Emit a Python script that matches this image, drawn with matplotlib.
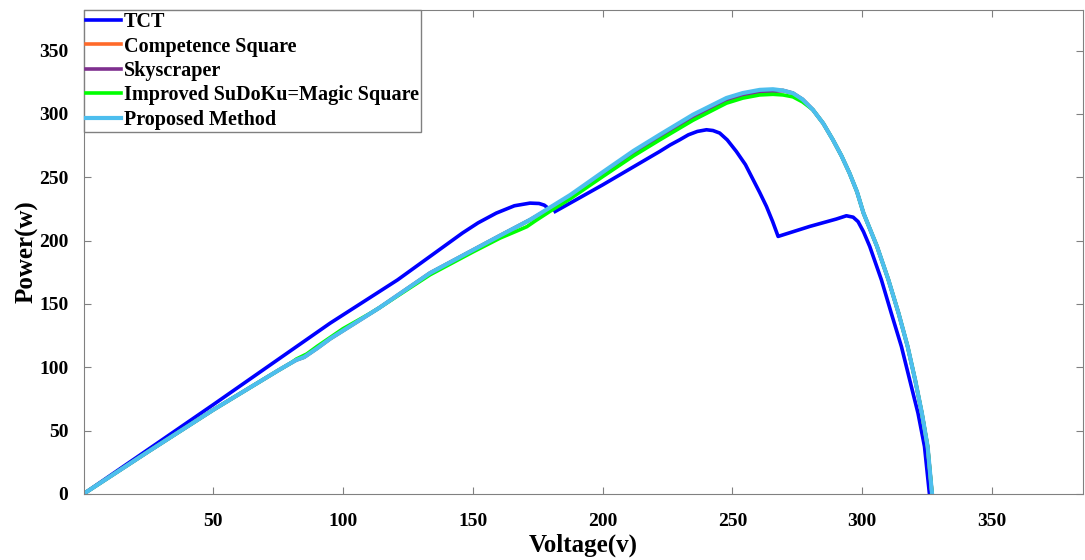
import numpy as np
import matplotlib
matplotlib.use("Agg")
import matplotlib.pyplot as plt

# Datos (Voltaje en V, Potencia en W)
v_tct = [0, 50, 95, 121, 146, 152, 159, 166, 172, 175.5, 177.5, 179, np.nan,
         181.7, 190, 200, 210, 222, 226, 229.7, 233, 236.5, 240, 242.5, 245.1, 248,
         251.5, 255, 258, 260.5, 263.1, 265.5, 267.6, 279.8, 290, 293.9, 296.5, 298.4,
         300.5, 302.9, 307.4, 311.2, 315.1, 318.3, 321.5, 324, 325.9]
p_tct = [0, 70.5, 134.8, 169, 206, 214, 221.7, 227.5, 229.6, 229.3, 228, 225.6, np.nan,
         223, 232.5, 244, 256, 270.4, 275.5, 279.6, 283.5, 286.2, 287.5, 286.9, 284.9, 279.5,
         270.4, 260, 248, 238, 227, 215, 203.3, 211.2, 217, 219.6, 218.5, 215,
         207, 195.4, 169, 142.7, 116.4, 90, 63.7, 37.4, 0]

v_prop = [0, 25, 50, 75, 80, 82, 85, 90, 95, 114, 133.5, 150, 160.5, 172, 187.5, 200,
          212, 222, 234.8, 247.7, 254, 260.5, 265.6, 269.5, 273.3, 277, 281, 285, 288.7,
          292, 295.1, 298, 300.5, 305.7, 310.1, 314, 317.5, 320.4, 323, 325.2, 326.9]
p_prop = [0, 33.5, 66.4, 97.5, 103.5, 105.8, 108, 115, 122.5, 147, 174.4, 192.5, 204,
          216.4, 236, 254, 271, 283.6, 299.4, 312.6, 316.5, 319, 319.5, 318.5, 316.4,
          311.5, 303.3, 292.5, 279.6, 267, 253.3, 238.5, 221.7, 195.4, 169, 142.7, 116.4,
          90, 63.7, 37.4, 0]

v_green = [0, 25, 50, 75, 80, 82, 86, 90, 100, 110.4, 114, 133.5, 150, 160.5, 168,
           170.8, 174, 180, 187.5, 200, 212, 222, 234.8, 247.7, 254, 260.5, 265.6, 269.5,
           273.3, 277, 281, 285, 288.7, 292, 295.1, 298, 300.5, 305.7, 310.1, 314, 317.5,
           320.4, 323, 325.2, 326.9]
p_green = [0, 33.5, 66.4, 97.5, 103.5, 106.5, 110.5, 116.5, 130.5, 142.5, 147, 173,
           191, 202, 208.5, 211, 215.5, 223.5, 233, 250.5, 267, 279.5, 295, 308.5, 312.5,
           315, 315.5, 315, 313.5, 309.5, 303.3, 292.5, 279.6, 267, 253.3, 238.5, 221.7,
           195.4, 169, 142.7, 116.4, 90, 63.7, 37.4, 0]

# Skyscraper y Competence Square casi coinciden con el metodo propuesto
v_sky = v_prop
p_sky = [p - (1.8 if 185 < v < 268 else 0) for v, p in zip(v_prop, p_prop)]
v_comp = v_prop
p_comp = [p - (0.8 if 185 < v < 268 else 0) for v, p in zip(v_prop, p_prop)]

plt.rcParams['font.family'] = ['Liberation Serif', 'DejaVu Serif']
plt.rcParams['font.weight'] = 'bold'

fig = plt.figure(figsize=(10.85, 5.6), dpi=100)
ax = fig.add_axes([0.077, 0.118, 0.921, 0.864])

ax.plot(v_tct, p_tct, color='#0000FF', lw=2.6, label='TCT')
ax.plot(v_comp, p_comp, color='#FF6A2A', lw=2.6, label='Competence Square')
ax.plot(v_sky, p_sky, color='#7E2F8E', lw=2.6, label='Skyscraper')
ax.plot(v_green, p_green, color='#00FF00', lw=2.6, label='Improved SuDoKu=Magic Square')
ax.plot(v_prop, p_prop, color='#4DBEEE', lw=3.0, label='Proposed Method')

ax.set_xlim(0, 385)
ax.set_ylim(0, 382)
ax.set_xticks([50, 100, 150, 200, 250, 300, 350])
ax.set_yticks([0, 50, 100, 150, 200, 250, 300, 350])
ax.tick_params(direction='in', top=True, right=True, labelsize=14, length=5,
               color='#808080', pad=11)
ax.tick_params(axis='x', pad=14)
for lab in ax.get_xticklabels() + ax.get_yticklabels():
    lab.set_fontweight('bold')
for s in ax.spines.values():
    s.set_color('#808080')

ax.set_xlabel('Voltage(v)', fontsize=18, fontweight='bold', labelpad=2)
ax.set_ylabel('Power(w)', fontsize=18, fontweight='bold', labelpad=0)

leg = ax.legend(loc='upper left', borderaxespad=0, fontsize=14.5, handlelength=1.75,
                handletextpad=0.15, labelspacing=0.22, borderpad=0.1,
                fancybox=False, framealpha=1, edgecolor='#808080')
for t in leg.get_texts():
    t.set_fontweight('bold')

fig.savefig('out.png', dpi=100)
